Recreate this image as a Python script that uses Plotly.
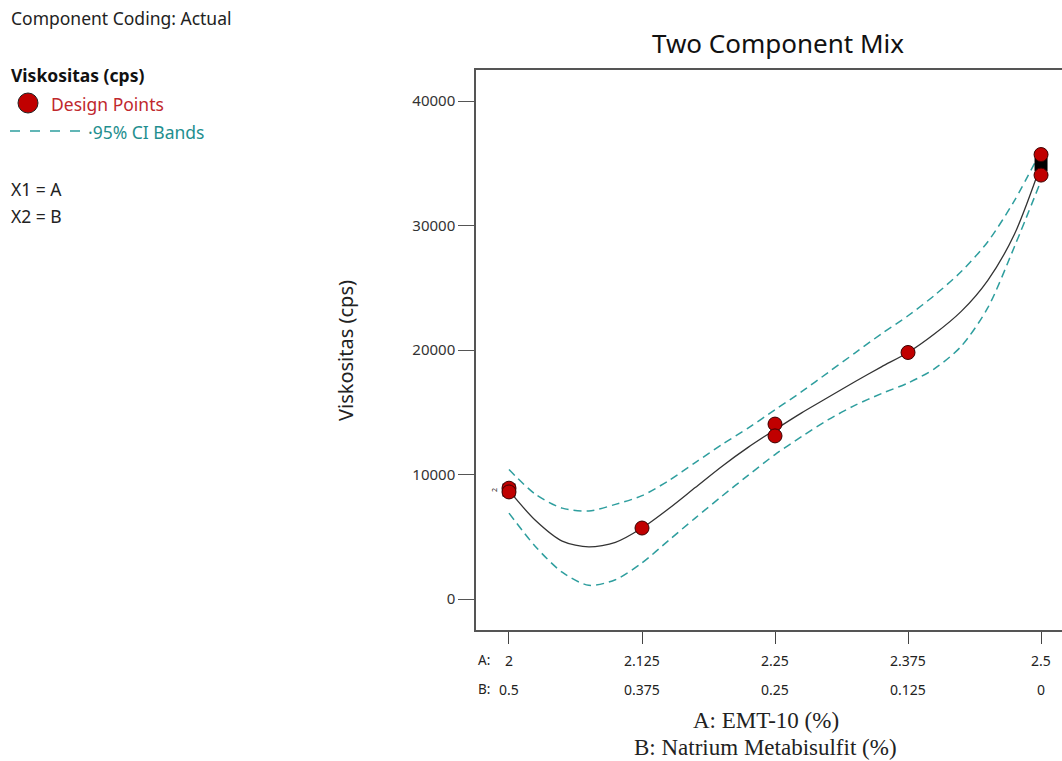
import plotly.graph_objects as go

# ---- data ----
curve_x = [2.000, 2.025, 2.050, 2.075, 2.100, 2.125, 2.150, 2.175, 2.200, 2.225, 2.250,
           2.275, 2.300, 2.325, 2.350, 2.375, 2.400, 2.425, 2.450, 2.475, 2.500]
fit_y = [8700, 6300, 4650, 4180, 4550, 5700, 7250, 8950, 10650, 12200, 13600,
         14950, 16200, 17450, 18650, 19800, 21300, 23100, 25600, 29300, 34900]
upper_y = [10400, 8400, 7300, 7070, 7600, 8300, 9500, 10950, 12400, 13750, 15200,
           16650, 18200, 19750, 21300, 22750, 24400, 26300, 28700, 32000, 36000]
lower_y = [6900, 4200, 2150, 1100, 1550, 2900, 4700, 6500, 8250, 9950, 11600,
           13050, 14400, 15550, 16500, 17350, 18500, 20300, 23400, 28300, 33600]

design_x = [2.0, 2.0, 2.125, 2.25, 2.25, 2.375, 2.5, 2.5]
design_y = [8900, 8600, 5700, 14050, 13100, 19800, 35700, 34050]
multi_x = [2.0, 2.5]
multi_y = [8750, 34900]

tick_vals = [2.0, 2.125, 2.25, 2.375, 2.5]
tick_a = ["2", "2.125", "2.25", "2.375", "2.5"]
tick_b = ["0.5", "0.375", "0.25", "0.125", "0"]
y_ticks = [0, 10000, 20000, 30000, 40000]

TEAL = "#2e9e9e"
RED = "#c00000"
SANS = "Noto Sans, Open Sans, sans-serif"
SERIF = "Liberation Serif, DejaVu Serif, serif"

L, T, B = 476, 70, 630          # plot-area pixel edges
W, H = 1062 - L, B - T


def pp(xp, yp):
    """pixel -> paper coordinates"""
    return (xp - L) / W, (B - yp) / H


fig = go.Figure()
for yy in (upper_y, lower_y):
    fig.add_trace(go.Scatter(x=curve_x, y=yy, mode="lines", line_shape="spline",
                             line=dict(color=TEAL, width=1.5, dash="8px,5px", smoothing=0.8),
                             hoverinfo="skip", showlegend=False))
fig.add_trace(go.Scatter(x=curve_x, y=fit_y, mode="lines", line_shape="spline",
                         line=dict(color="#333333", width=1.3, smoothing=0.8), showlegend=False))
fig.add_trace(go.Scatter(x=multi_x, y=multi_y, mode="markers",
                         marker=dict(symbol="square", size=13, color="black"),
                         showlegend=False))
fig.add_trace(go.Scatter(x=design_x, y=design_y, mode="markers",
                         marker=dict(size=14, color=RED, line=dict(color="#3a0000", width=1)),
                         showlegend=False))

fig.update_layout(
    width=1062, height=761,
    margin=dict(l=L, r=0, t=T, b=761 - B),
    paper_bgcolor="white", plot_bgcolor="white",
    showlegend=False,
    font=dict(family=SANS, color="#333333", size=14),
)
fig.update_xaxes(range=[1.969, 2.5197], tickvals=tick_vals, showticklabels=False,
                 ticks="outside", ticklen=12, tickcolor="#444", tickwidth=1.2,
                 showline=True, linecolor="#555", linewidth=1.5, mirror=True,
                 showgrid=False, zeroline=False)
fig.update_yaxes(range=[-2490, 42490], tickvals=y_ticks, ticktext=[str(v) for v in y_ticks],
                 ticks="outside", ticklen=16, tickcolor="#555", tickwidth=1.2,
                 showline=True, linecolor="#555", linewidth=1.5,
                 showgrid=False, zeroline=False,
                 tickfont=dict(family=SANS, size=15, color="#333"))


def text_px(xp, yp, text, size, color="#222", family=SANS, xanchor="left", angle=0):
    x, y = pp(xp, yp)
    fig.add_annotation(x=x, y=y, xref="paper", yref="paper", xanchor=xanchor,
                       yanchor="middle", text=text, showarrow=False, textangle=angle,
                       font=dict(size=size, color=color, family=family))


# x tick labels (two rows)
for v, a, b in zip(tick_vals, tick_a, tick_b):
    for txt, yp in ((a, 660), (b, 689)):
        fig.add_annotation(x=v, y=pp(0, yp)[1], xref="x", yref="paper", xanchor="center",
                           yanchor="middle", text=txt, showarrow=False,
                           font=dict(size=14, color="#222", family=SANS))
text_px(476, 660, "A:", 13.5)
text_px(476, 689, "B:", 13.5)

text_px(766, 720, "A: EMT-10 (%)", 23, family=SERIF, xanchor="center")
text_px(765, 747, "B: Natrium Metabisulfit (%)", 23, family=SERIF, xanchor="center")
text_px(345, 351, "Viskositas (cps)", 20, xanchor="center", angle=-90)
text_px(778, 43, "Two Component Mix", 26, color="#111", xanchor="center")

fig.add_annotation(x=2.0, y=8750, xref="x", yref="y", text="2", textangle=-90,
                   showarrow=False, xshift=-15, xanchor="center", yanchor="middle",
                   font=dict(size=7, color="#222", family=SANS))

# side legend / notes
text_px(9, 18, "Component Coding: Actual", 17.5)
text_px(9, 75, "<b>Viskositas (cps)</b>", 17.5, color="#111")
text_px(49, 104, "Design Points", 17.5, color="#c0282d")
text_px(86, 132, "·95% CI Bands", 17.5, color="#1f8f8f")
text_px(9, 189, "X1 = A", 17.5)
text_px(9, 216, "X2 = B", 17.5)

x0, y0 = pp(18, 113)
x1, y1 = pp(38, 93)
fig.add_shape(type="circle", xref="paper", yref="paper", x0=x0, x1=x1, y0=y0, y1=y1,
              fillcolor=RED, line=dict(color="#222", width=1))
lx0, ly = pp(10, 131)
lx1, _ = pp(80, 131)
fig.add_shape(type="line", xref="paper", yref="paper", x0=lx0, x1=lx1, y0=ly, y1=ly,
              line=dict(color=TEAL, width=1.3, dash="10px,10px"))

fig.write_html("out.html", config={"displayModeBar": False},
               post_script="document.body.style.margin='0px';")
